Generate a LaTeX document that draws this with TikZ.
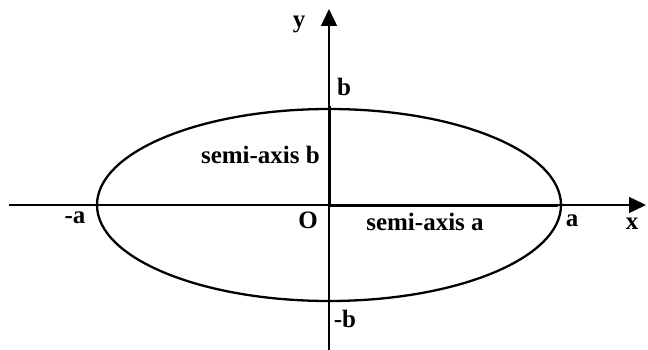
\documentclass[tikz,border=0pt]{standalone}
\usepackage{fontspec}
\setmainfont{Liberation Serif}
\usetikzlibrary{arrows.meta}
\tikzset{
  axis/.style={line width=1.5pt,-{Triangle[length=17pt,width=16pt]}},
  semiaxis/.style={line width=3pt},
  curve/.style={line width=2.3pt},
  lbl/.style={font=\fontsize{25}{29}\selectfont\bfseries,inner sep=0pt}
}
\begin{document}
\begin{tikzpicture}[x=1pt,y=-1pt]
\useasboundingbox (0,0) rectangle (648,350);
\coordinate (O) at (329,205);
\coordinate (xl) at (9,205);
\coordinate (xr) at (646,205);
\coordinate (yb) at (329,350);
\coordinate (yt) at (329,9);
\coordinate (A) at (558,205);
\coordinate (B) at (329,106);
% axes
\draw[axis] (xl) -- (xr);
\draw[axis] (yb) -- (yt);
% ellipse and semi-axes
\draw[curve] (O) ellipse [x radius=232,y radius=96];
\draw[semiaxis] (O) -- (A);
\draw[semiaxis] (O) -- (B);
% labels
\node[lbl] (ylab) at (299,24) {y};
\node[lbl] (xlab) at (632,224) {x};
\node[lbl] (blab) at (344,87) {b};
\node[lbl] (mblab) at (345,319) {-b};
\node[lbl] (alab) at (572,221) {a};
\node[lbl] (malab) at (75,218) {-a};
\node[lbl] (olab) at (308,220) {O};
\node[lbl,anchor=east] (sb) at (320,155) {semi-axis b};
\node[lbl] (sa) at (425,222) {semi-axis a};
\end{tikzpicture}
\end{document}
